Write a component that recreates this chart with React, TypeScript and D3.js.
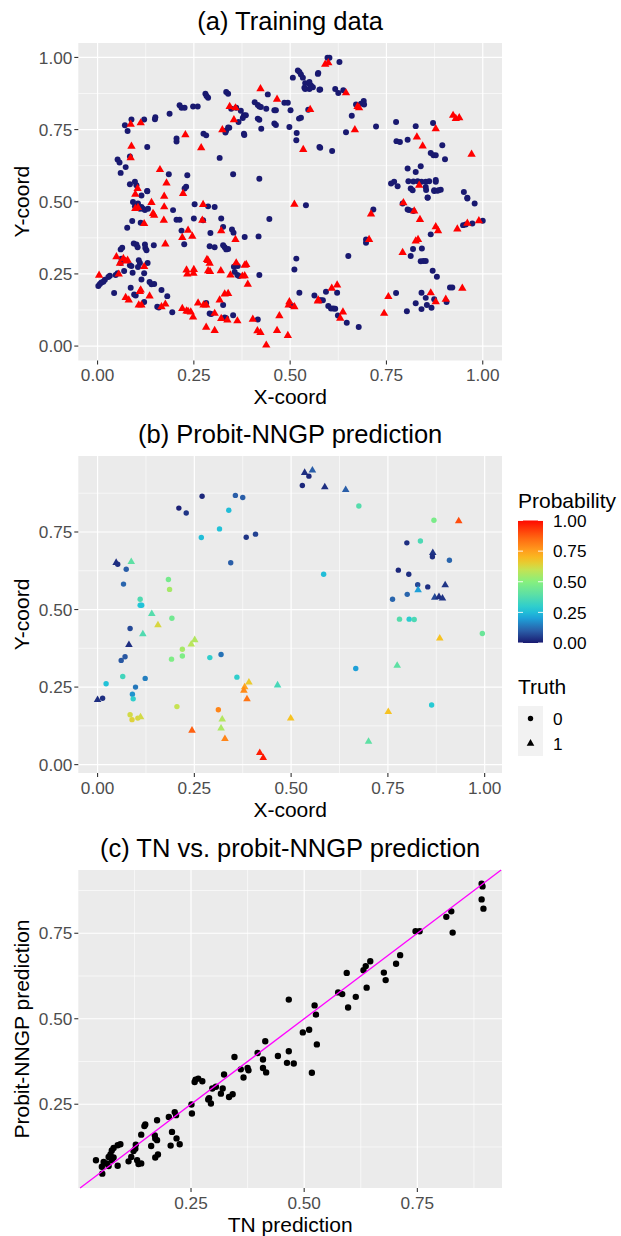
import React from 'react';
import * as d3 from 'd3';

// (a) training data, truth = 0 (navy) and truth = 1 (red)
const trainNeg: [number, number][] = [
  [0.052,0.646],[0.057,0.636],[0.060,0.600],[0.073,0.620],[0.071,0.765],[0.078,0.745],[0.088,0.785],[0.121,0.785],[0.150,0.793],[0.149,0.786],
  [0.187,0.805],[0.213,0.834],[0.218,0.826],[0.226,0.826],[0.248,0.830],[0.260,0.830],[0.280,0.874],[0.287,0.860],[0.283,0.866],[0.334,0.880],
  [0.339,0.874],[0.347,0.822],[0.360,0.826],[0.372,0.815],[0.380,0.800],[0.385,0.800],[0.377,0.790],[0.334,0.747],[0.339,0.757],[0.342,0.756],
  [0.332,0.740],[0.366,0.776],[0.380,0.736],[0.381,0.731],[0.408,0.845],[0.416,0.835],[0.420,0.830],[0.424,0.828],[0.442,0.872],[0.438,0.822],
  [0.459,0.817],[0.463,0.817],[0.416,0.788],[0.420,0.784],[0.425,0.753],[0.459,0.771],[0.463,0.766],[0.485,0.843],[0.494,0.843],[0.501,0.817],
  [0.498,0.759],[0.507,0.930],[0.520,0.955],[0.524,0.950],[0.528,0.941],[0.533,0.930],[0.523,0.788],[0.517,0.738],[0.516,0.713],[0.539,0.911],
  [0.550,0.908],[0.554,0.900],[0.572,0.943],[0.576,0.888],[0.576,0.690],[0.537,0.895],[0.205,0.719],[0.205,0.709],[0.129,0.690],[0.317,0.652],
  [0.352,0.595],[0.420,0.580],[0.185,0.595],[0.233,0.592],[0.226,0.546],[0.230,0.552],[0.084,0.561],[0.101,0.557],[0.097,0.569],[0.129,0.537],
  [0.275,0.736],[0.282,0.730],[0.084,0.657],
  [0.573,0.946],[0.597,0.999],[0.602,0.999],[0.628,0.984],[0.550,0.915],[0.554,0.903],[0.559,0.897],[0.539,0.891],[0.550,0.891],[0.578,0.889],
  [0.617,0.891],[0.625,0.877],[0.638,0.886],[0.671,0.837],[0.684,0.840],[0.691,0.849],[0.692,0.837],[0.660,0.798],[0.528,0.791],[0.547,0.819],
  [0.645,0.741],[0.723,0.761],[0.775,0.776],[0.826,0.762],[0.871,0.773],[0.578,0.687],[0.609,0.676],[0.776,0.710],[0.785,0.707],[0.805,0.715],
  [0.895,0.696],[0.865,0.669],[0.872,0.661],[0.878,0.661],[0.902,0.647],[0.805,0.615],[0.826,0.603],[0.839,0.623],[0.762,0.563],[0.770,0.569],
  [0.779,0.554],[0.807,0.571],[0.820,0.570],[0.831,0.571],[0.841,0.569],[0.852,0.569],[0.861,0.571],[0.878,0.575],[0.878,0.569],[0.813,0.546],
  [0.818,0.540],[0.852,0.551],[0.853,0.541],[0.874,0.537],[0.882,0.538],[0.891,0.542],[0.951,0.534],[0.857,0.514],[0.960,0.514],
  [0.092,0.499],[0.097,0.484],[0.105,0.494],[0.114,0.482],[0.110,0.476],[0.118,0.476],[0.123,0.471],[0.131,0.476],[0.114,0.522],[0.129,0.536],
  [0.090,0.433],[0.077,0.410],[0.112,0.427],[0.094,0.355],[0.101,0.352],[0.104,0.342],[0.064,0.341],[0.060,0.335],[0.123,0.352],[0.124,0.340],
  [0.127,0.332],[0.146,0.349],[0.062,0.303],[0.060,0.288],[0.069,0.260],[0.084,0.280],[0.088,0.277],[0.107,0.297],[0.110,0.288],[0.105,0.274],
  [0.130,0.288],[0.091,0.254],[0.121,0.252],[0.052,0.252],[0.047,0.246],[0.032,0.244],[0.028,0.239],[0.019,0.230],[0.015,0.223],[0.010,0.220],
  [0.006,0.215],[0.002,0.208],[0.043,0.184],[0.086,0.202],[0.095,0.179],[0.099,0.175],[0.114,0.231],[0.135,0.222],[0.140,0.214],[0.147,0.215],
  [0.166,0.194],[0.181,0.173],[0.121,0.153],[0.155,0.136],[0.159,0.134],[0.194,0.117],[0.196,0.471],[0.205,0.438],[0.213,0.438],[0.218,0.400],
  [0.225,0.353],[0.252,0.491],[0.250,0.442],[0.274,0.436],[0.287,0.484],[0.304,0.482],[0.293,0.392],[0.291,0.346],[0.304,0.342],[0.321,0.442],
  [0.326,0.413],[0.349,0.404],[0.353,0.393],[0.326,0.349],[0.330,0.342],[0.334,0.335],[0.339,0.336],[0.382,0.378],[0.418,0.380],[0.446,0.440],
  [0.354,0.275],[0.360,0.280],[0.364,0.277],[0.356,0.257],[0.363,0.246],[0.367,0.243],[0.420,0.246],[0.291,0.113],[0.295,0.111],[0.282,0.149],
  [0.326,0.142],[0.330,0.099],[0.334,0.096],[0.352,0.107],[0.416,0.092],[0.516,0.303],[0.511,0.265],[0.524,0.185],[0.563,0.175],[0.503,0.141],
  [0.541,0.488],[0.576,0.159],
  [0.716,0.473],[0.697,0.369],[0.697,0.358],[0.651,0.312],[0.580,0.159],[0.585,0.159],[0.593,0.188],[0.599,0.139],[0.606,0.130],[0.612,0.130],
  [0.617,0.129],[0.622,0.185],[0.624,0.106],[0.647,0.081],[0.678,0.066],[0.775,0.184],[0.803,0.121],[0.826,0.148],[0.841,0.185],[0.841,0.128],
  [0.852,0.167],[0.855,0.142],[0.867,0.133],[0.874,0.162],[0.906,0.153],[0.915,0.203],[0.921,0.203],[0.792,0.494],[0.805,0.473],[0.809,0.471],
  [0.820,0.468],[0.857,0.515],[0.874,0.540],[0.886,0.540],[0.960,0.511],[0.979,0.494],[0.949,0.419],[0.956,0.421],[0.973,0.425],[1.000,0.434],
  [0.865,0.387],[0.819,0.336],[0.842,0.338],[0.813,0.312],[0.839,0.294],[0.846,0.295],[0.852,0.295],[0.870,0.261],[0.881,0.240],
];

const trainPos: [number, number][] = [
  [0.086,0.768],[0.112,0.773],[0.088,0.692],[0.086,0.652],[0.228,0.732],[0.269,0.687],[0.324,0.749],[0.343,0.830],[0.358,0.825],[0.354,0.784],
  [0.423,0.891],[0.466,0.855],[0.552,0.819],[0.534,0.681],[0.162,0.611],[0.179,0.565],[0.173,0.519],[0.222,0.528],[0.104,0.546],[0.098,0.526],
  [0.591,0.976],[0.599,0.981],[0.645,0.877],[0.675,0.830],[0.679,0.825],[0.668,0.749],[0.829,0.724],[0.844,0.693],[0.878,0.753],[0.923,0.799],
  [0.930,0.788],[0.939,0.791],[0.971,0.664],[0.835,0.557],
  [0.105,0.480],[0.098,0.476],[0.140,0.497],[0.144,0.459],[0.147,0.453],[0.173,0.482],[0.172,0.436],[0.274,0.490],[0.272,0.436],[0.121,0.424],
  [0.176,0.353],[0.235,0.401],[0.220,0.376],[0.246,0.380],[0.321,0.399],[0.358,0.369],[0.049,0.309],[0.067,0.303],[0.078,0.297],[0.058,0.287],
  [0.073,0.294],[0.121,0.275],[0.004,0.245],[0.055,0.249],[0.231,0.263],[0.233,0.249],[0.250,0.265],[0.249,0.252],[0.287,0.296],[0.291,0.287],
  [0.284,0.300],[0.287,0.261],[0.292,0.258],[0.320,0.261],[0.360,0.288],[0.382,0.280],[0.386,0.282],[0.345,0.246],[0.382,0.243],[0.376,0.242],
  [0.390,0.214],[0.112,0.194],[0.110,0.189],[0.073,0.168],[0.081,0.159],[0.135,0.173],[0.107,0.142],[0.114,0.142],[0.166,0.136],[0.176,0.145],
  [0.220,0.130],[0.231,0.121],[0.235,0.120],[0.242,0.118],[0.248,0.100],[0.261,0.149],[0.275,0.142],[0.282,0.142],[0.304,0.113],[0.321,0.095],
  [0.337,0.090],[0.317,0.159],[0.330,0.180],[0.339,0.182],[0.363,0.087],[0.282,0.065],[0.304,0.054],[0.403,0.093],[0.415,0.053],[0.423,0.047],
  [0.438,0.003],[0.472,0.105],[0.466,0.054],[0.494,0.036],[0.498,0.153],[0.496,0.142],[0.511,0.136],[0.511,0.491],[0.572,0.156],
  [0.710,0.457],[0.705,0.369],[0.794,0.496],[0.822,0.468],[0.837,0.438],[0.878,0.413],[0.884,0.399],[0.934,0.405],[0.960,0.425],[0.990,0.434],
  [0.826,0.364],[0.832,0.369],[0.792,0.324],[0.608,0.200],[0.622,0.211],[0.573,0.159],[0.637,0.118],[0.630,0.096],[0.755,0.171],[0.744,0.113],
  [0.865,0.184],[0.878,0.153],[0.904,0.162],[0.947,0.200],
];

// (b) test locations: x, y, truth, predicted probability
const testPts: [number, number, number, number][] = [
  [0.048,0.651,1,0.03],[0.052,0.646,0,0.03],[0.074,0.630,0,0.10],[0.087,0.654,1,0.40],[0.067,0.582,0,0.11],
  [0.110,0.533,0,0.37],[0.110,0.514,0,0.27],[0.114,0.514,0,0.26],[0.183,0.597,0,0.46],[0.186,0.565,0,0.55],
  [0.210,0.827,0,0.01],[0.229,0.811,0,0.04],[0.270,0.865,0,0.02],[0.339,0.820,0,0.25],[0.315,0.760,0,0.26],
  [0.268,0.732,0,0.25],[0.356,0.868,0,0.10],[0.375,0.861,0,0.10],[0.384,0.733,0,0.04],[0.408,0.743,0,0.06],
  [0.344,0.651,0,0.10],[0.529,0.900,0,0.02],[0.535,0.941,1,0.03],[0.546,0.930,0,0.02],[0.555,0.949,1,0.10],
  [0.587,0.895,1,0.03],[0.641,0.886,1,0.10],[0.675,0.834,0,0.38],[0.869,0.788,0,0.47],[0.933,0.785,1,0.90],
  [0.799,0.715,0,0.03],[0.834,0.721,0,0.36],[0.866,0.683,1,0.04],[0.865,0.670,0,0.03],[0.909,0.659,0,0.11],
  [0.584,0.614,0,0.25],[0.777,0.627,0,0.02],[0.804,0.614,0,0.03],[0.827,0.580,0,0.07],[0.853,0.573,0,0.03],
  [0.898,0.579,1,0.04],[0.828,0.563,1,0.20],[0.762,0.533,0,0.11],[0.800,0.549,0,0.11],[0.871,0.539,1,0.07],
  [0.882,0.541,1,0.03],[0.891,0.536,1,0.04],
  [0.140,0.486,1,0.38],[0.156,0.450,1,0.63],[0.192,0.472,0,0.45],[0.084,0.439,0,0.07],[0.117,0.421,1,0.37],
  [0.081,0.386,1,0.03],[0.071,0.348,0,0.09],[0.061,0.336,0,0.09],[0.219,0.372,0,0.55],[0.219,0.350,0,0.48],
  [0.191,0.340,0,0.48],[0.242,0.388,1,0.58],[0.251,0.402,1,0.57],[0.290,0.345,0,0.30],[0.319,0.355,0,0.13],
  [0.360,0.282,0,0.30],[0.391,0.265,1,0.66],[0.380,0.250,1,0.74],[0.378,0.239,1,0.79],[0.386,0.211,1,0.83],
  [0.465,0.256,1,0.35],[0.499,0.149,1,0.68],[0.022,0.261,0,0.26],[0.065,0.284,0,0.34],[0.098,0.250,0,0.14],
  [0.123,0.278,0,0.15],[0.090,0.227,0,0.18],[0.092,0.212,0,0.30],[0.000,0.209,1,0.03],[0.013,0.214,0,0.03],
  [0.084,0.161,0,0.62],[0.089,0.145,0,0.64],[0.104,0.150,0,0.63],[0.111,0.153,1,0.62],[0.205,0.187,0,0.60],
  [0.312,0.177,0,0.80],[0.322,0.146,1,0.57],[0.319,0.117,1,0.56],[0.244,0.110,1,0.87],[0.329,0.083,1,0.80],
  [0.419,0.038,1,0.97],[0.428,0.022,1,0.98],
  [0.780,0.469,0,0.38],[0.805,0.469,0,0.29],[0.818,0.468,0,0.36],[0.994,0.423,0,0.43],[0.884,0.407,1,0.68],
  [0.667,0.310,0,0.20],[0.774,0.319,1,0.40],[0.863,0.192,0,0.28],[0.751,0.170,1,0.68],[0.700,0.074,1,0.40],
];

// (c) TN prediction vs probit-NNGP prediction
const tnVsNngp: [number, number][] = [
  [0.466,0.556],[0.523,0.539],[0.526,0.512],[0.511,0.468],[0.892,0.895],[0.894,0.887],[0.892,0.849],[0.896,0.822],
  [0.814,0.798],[0.825,0.814],[0.828,0.752],[0.746,0.756],[0.755,0.756],[0.712,0.686],[0.703,0.661],[0.646,0.668],
  [0.636,0.654],[0.631,0.642],[0.676,0.635],[0.680,0.613],[0.638,0.591],[0.594,0.634],[0.575,0.577],[0.584,0.572],
  [0.614,0.564],[0.597,0.533],
  [0.497,0.460],[0.528,0.425],[0.517,0.342],[0.414,0.434],[0.397,0.400],[0.442,0.391],[0.466,0.405],[0.462,0.371],
  [0.477,0.369],[0.409,0.381],[0.409,0.356],[0.416,0.343],[0.346,0.388],[0.360,0.352],[0.375,0.356],[0.377,0.349],
  [0.366,0.328],[0.323,0.337],[0.320,0.296],[0.316,0.281],[0.334,0.271],[0.342,0.279],[0.297,0.296],[0.305,0.301],
  [0.288,0.264],[0.294,0.252],[0.290,0.268],[0.260,0.322],[0.266,0.325],[0.275,0.317],[0.258,0.315],[0.251,0.249],
  [0.252,0.223],[0.201,0.213],[0.214,0.227],[0.217,0.218],[0.208,0.169],[0.218,0.150],[0.225,0.133],[0.205,0.129],
  [0.175,0.203],[0.149,0.191],[0.147,0.186],[0.170,0.159],[0.171,0.150],[0.175,0.145],[0.162,0.128],[0.140,0.161],
  [0.128,0.132],[0.127,0.120],[0.123,0.113],[0.118,0.096],[0.112,0.083],[0.131,0.086],[0.134,0.075],[0.140,0.077],
  [0.171,0.094],[0.177,0.103],[0.094,0.133],[0.088,0.130],[0.079,0.122],[0.075,0.115],[0.072,0.103],[0.068,0.096],
  [0.079,0.094],[0.075,0.086],[0.057,0.081],[0.064,0.077],[0.053,0.067],[0.068,0.069],[0.054,0.047],[0.040,0.086],
  [0.088,0.070],
];

const axisBreaks = [0, 0.25, 0.5, 0.75, 1];
const probBreaks = [0, 0.25, 0.5, 0.75, 1];
const truthLevels = ['0', '1'];
const probStops = [0, 0.1, 0.2, 0.27, 0.4, 0.5, 0.6, 0.68, 0.75, 0.87, 1];
const probColors = ['#191970', '#2a5ea8', '#1ea0d8', '#22c8d8', '#5ee0a4', '#86f07e', '#c6e252', '#f6c222', '#ffa01e', '#ff6010', '#ff0a00'];

const FONT = '"Liberation Sans", Arial, Helvetica, sans-serif';
const LEFT = 78.3;
const RIGHT = 502;
const NAVY = '#191970';

const probColor = d3.scaleLinear<string>().domain(probStops).range(probColors).clamp(true);
const circle = (size: number) => d3.symbol().type(d3.symbolCircle).size(size)()!;
const triangle = (size: number) => d3.symbol().type(d3.symbolTriangle).size(size)()!;

function minorsOf(majors: number[], domain: number[]) {
  const step = majors[1] - majors[0];
  const out = majors.map((m) => m - step / 2).concat([majors[majors.length - 1] + step / 2]);
  return out.filter((v) => v > domain[0] && v < domain[1]);
}

type PanelProps = {
  x: d3.ScaleLinear<number, number>;
  y: d3.ScaleLinear<number, number>;
  title: string;
  xLab: string;
  yLab: string;
  children?: React.ReactNode;
};

const Panel = ({ x, y, title, xLab, yLab, children }: PanelProps) => {
  const [top, bottom] = [y.range()[1], y.range()[0]];
  const xd = x.domain();
  const yd = y.domain();
  const xMaj = axisBreaks.filter((v) => v >= xd[0] && v <= xd[1]);
  const yMaj = axisBreaks.filter((v) => v >= yd[0] && v <= yd[1]);
  const xMin = minorsOf(axisBreaks, xd);
  const yMin = minorsOf(axisBreaks, yd);
  const cy = (top + bottom) / 2;
  return (
    <g>
      <rect x={LEFT} y={top} width={RIGHT - LEFT} height={bottom - top} fill="#ebebeb" />
      {xMin.map((v) => (
        <line key={'xm' + v} x1={x(v)} x2={x(v)} y1={top} y2={bottom} stroke="#fff" strokeWidth={0.6} />
      ))}
      {yMin.map((v) => (
        <line key={'ym' + v} x1={LEFT} x2={RIGHT} y1={y(v)} y2={y(v)} stroke="#fff" strokeWidth={0.6} />
      ))}
      {xMaj.map((v) => (
        <line key={'xM' + v} x1={x(v)} x2={x(v)} y1={top} y2={bottom} stroke="#fff" strokeWidth={1.2} />
      ))}
      {yMaj.map((v) => (
        <line key={'yM' + v} x1={LEFT} x2={RIGHT} y1={y(v)} y2={y(v)} stroke="#fff" strokeWidth={1.2} />
      ))}
      {children}
      {xMaj.map((v) => (
        <g key={'xt' + v}>
          <line x1={x(v)} x2={x(v)} y1={bottom} y2={bottom + 4} stroke="#333" strokeWidth={1.1} />
          <text x={x(v)} y={bottom + 20.5} textAnchor="middle" fontSize={17.2} fill="#4d4d4d">
            {d3.format('.2f')(v)}
          </text>
        </g>
      ))}
      {yMaj.map((v) => (
        <g key={'yt' + v}>
          <line x1={LEFT - 4} x2={LEFT} y1={y(v)} y2={y(v)} stroke="#333" strokeWidth={1.1} />
          <text x={LEFT - 6} y={y(v)} dy="0.36em" textAnchor="end" fontSize={17.2} fill="#4d4d4d">
            {d3.format('.2f')(v)}
          </text>
        </g>
      ))}
      <text x={(LEFT + RIGHT) / 2} y={bottom + 43.5} textAnchor="middle" fontSize={21}>
        {xLab}
      </text>
      <text transform={`translate(29,${cy}) rotate(-90)`} textAnchor="middle" fontSize={21}>
        {yLab}
      </text>
      <text x={(LEFT + RIGHT) / 2} y={top - 13} textAnchor="middle" fontSize={25.5}>
        {title}
      </text>
    </g>
  );
};

export default function App() {
  const xa = d3.scaleLinear().domain([-0.05, 1.05]).range([LEFT, RIGHT]);
  const ya = d3.scaleLinear().domain([-0.05, 1.05]).range([360.5, 43]);
  const xb = d3.scaleLinear().domain([-0.0498, 1.0448]).range([LEFT, RIGHT]);
  const yb = d3.scaleLinear().domain([-0.027, 0.995]).range([773, 456]);
  const xc = d3.scaleLinear().domain([0.001, 0.937]).range([LEFT, RIGHT]);
  const yc = d3.scaleLinear().domain([0.005, 0.935]).range([1188, 870]);

  const legY = d3.scaleLinear().domain([0, 1]).range([643, 520.5]);
  const gradStops = d3.range(0, 1.0001, 0.05);
  const lineLo = Math.max(xc.domain()[0], yc.domain()[0]);
  const lineHi = Math.min(xc.domain()[1], yc.domain()[1]);

  return (
    <div style={{ position: 'absolute', left: 0, top: 0 }}>
      <svg width={621} height={1236} style={{ display: 'block', background: '#fff' }} fontFamily={FONT}>
        <defs>
          <linearGradient id="probGrad" x1="0" y1="1" x2="0" y2="0">
            {gradStops.map((s) => (
              <stop key={s} offset={s} stopColor={probColor(s)} />
            ))}
          </linearGradient>
        </defs>

        <Panel x={xa} y={ya} title="(a) Training data" xLab="X-coord" yLab="Y-coord">
          {trainNeg.map((d, i) => (
            <path key={'n' + i} d={circle(28)} transform={`translate(${xa(d[0])},${ya(d[1])})`} fill={NAVY} />
          ))}
          {trainPos.map((d, i) => (
            <path key={'p' + i} d={triangle(30)} transform={`translate(${xa(d[0])},${ya(d[1])})`} fill="#ff0000" />
          ))}
        </Panel>

        <Panel x={xb} y={yb} title="(b) Probit-NNGP prediction" xLab="X-coord" yLab="Y-coord">
          {testPts.map((d, i) => (
            <path
              key={'t' + i}
              d={d[2] === 1 ? triangle(25) : circle(23)}
              transform={`translate(${xb(d[0])},${yb(d[1])})`}
              fill={probColor(d[3])}
            />
          ))}
        </Panel>

        <Panel x={xc} y={yc} title="(c) TN vs. probit-NNGP prediction" xLab="TN prediction" yLab="Probit-NNGP prediction">
          {tnVsNngp.map((d, i) => (
            <path key={'c' + i} d={circle(32)} transform={`translate(${xc(d[0])},${yc(d[1])})`} fill="#000" />
          ))}
          <line x1={xc(lineLo)} y1={yc(lineLo)} x2={xc(lineHi)} y2={yc(lineHi)} stroke="#ff00ff" strokeWidth={1.3} />
        </Panel>

        {/* colour legend */}
        <g>
          <text x={518} y={508} fontSize={21}>Probability</text>
          <rect x={518} y={legY(1)} width={25} height={legY(0) - legY(1)} fill="url(#probGrad)" />
          {probBreaks.map((b) => (
            <g key={'lb' + b}>
              <line x1={518} x2={523} y1={legY(b)} y2={legY(b)} stroke="#fff" strokeWidth={0.9} />
              <line x1={538} x2={543} y1={legY(b)} y2={legY(b)} stroke="#fff" strokeWidth={0.9} />
              <text x={553} y={legY(b)} dy="0.36em" fontSize={17.2}>
                {d3.format('.2f')(b)}
              </text>
            </g>
          ))}
        </g>

        {/* shape legend */}
        <g>
          <text x={518} y={694} fontSize={21}>Truth</text>
          {truthLevels.map((lv, i) => {
            const cy = 718.5 + i * 25;
            return (
              <g key={'tr' + lv}>
                <rect x={518} y={cy - 12.5} width={25} height={25} fill="#f2f2f2" />
                <path d={i === 0 ? circle(23) : triangle(25)} transform={`translate(530.5,${cy})`} fill="#000" />
                <text x={553} y={cy} dy="0.36em" fontSize={17.2}>
                  {lv}
                </text>
              </g>
            );
          })}
        </g>
      </svg>
    </div>
  );
}
